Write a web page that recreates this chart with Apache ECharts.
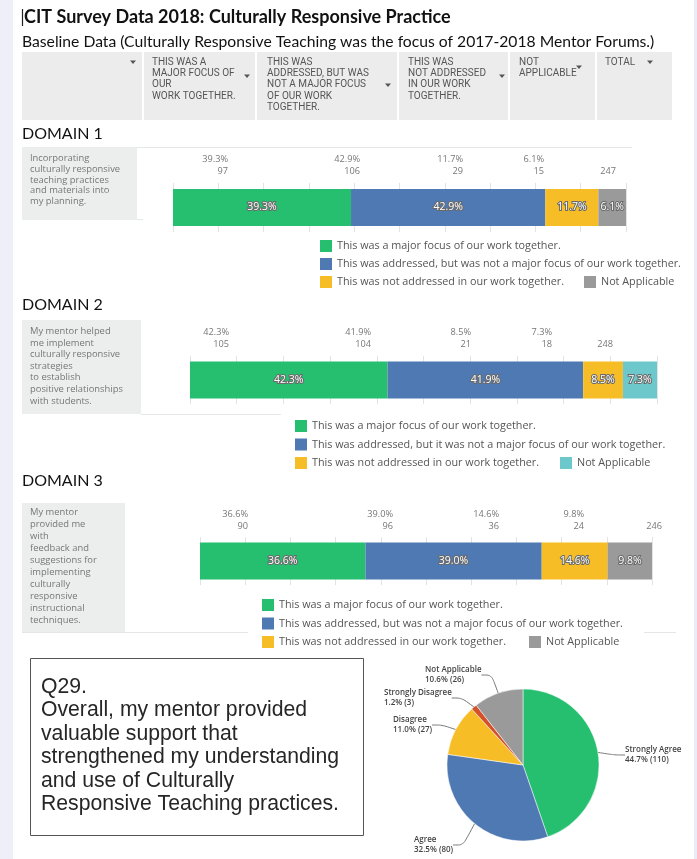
<!DOCTYPE html>
<html><head><meta charset="utf-8">
<script src="https://cdn.jsdelivr.net/npm/echarts@6/dist/echarts.min.js"></script>
<style>html,body{margin:0;padding:0;background:#fff}#c{width:697px;height:859px}</style>
</head><body><div id="c"></div><script>
// ---------- DATA ----------
const titleText = 'CIT Survey Data 2018: Culturally Responsive Practice';
const subtitleText = 'Baseline Data (Culturally Responsive Teaching was the focus of 2017-2018 Mentor Forums.)';
const headerLabels = ['', 'THIS WAS A\nMAJOR FOCUS OF\nOUR\nWORK TOGETHER.', 'THIS WAS\nADDRESSED, BUT WAS\nNOT A MAJOR FOCUS\nOF OUR WORK\nTOGETHER.', 'THIS WAS\nNOT ADDRESSED\nIN OUR WORK\nTOGETHER.', 'NOT\nAPPLICABLE', 'TOTAL'];
const domainTitles = ['DOMAIN 1', 'DOMAIN 2', 'DOMAIN 3'];
const legendNames1 = ['This was a major focus of our work together.', 'This was addressed, but was not a major focus of our work together.', 'This was not addressed in our work together.', 'Not Applicable'];
const legendNames2 = ['This was a major focus of our work together.', 'This was addressed, but it was not a major focus of our work together.', 'This was not addressed in our work together.', 'Not Applicable'];
const legendNames3 = legendNames1;
const rowLabel1 = 'Incorporating\nculturally responsive\nteaching practices\nand materials into\nmy planning.';
const rowLabel2 = 'My mentor helped\nme implement\nculturally responsive\nstrategies\nto establish\npositive relationships\nwith students.';
const rowLabel3 = 'My mentor\nprovided me\nwith\nfeedback and\nsuggestions for\nimplementing\nculturally\nresponsive\ninstructional\ntechniques.';
const d1Pct = [39.3, 42.9, 11.7, 6.1];
const d1Cnt = [97, 106, 29, 15];
const d1Total = 247;
const d2Pct = [42.3, 41.9, 8.5, 7.3];
const d2Cnt = [105, 104, 21, 18];
const d2Total = 248;
const d3Pct = [36.6, 39.0, 14.6, 9.8];
const d3Cnt = [90, 96, 36, 24];
const d3Total = 246;
const q29Text = 'Q29.\nOverall, my mentor provided\nvaluable support that\nstrengthened my understanding\nand use of Culturally\nResponsive Teaching practices.';
const pieNames = ['Strongly Agree', 'Agree', 'Disagree', 'Strongly Disagree', 'Not Applicable'];
const pieCounts = [110, 80, 27, 3, 26];

// ---------- STYLE / LAYOUT ----------
const GREEN = '#25BF6F', BLUE = '#4F79B2', YELLOW = '#F6BD26', GRAY = '#9A9A9A', TEAL = '#6CC8CB', RED = '#D4522A';
const FF = "'Open Sans', sans-serif";
const domains = [
  { pct: d1Pct, cnt: d1Cnt, total: d1Total, names: legendNames1, label: rowLabel1, colors: [GREEN, BLUE, YELLOW, GRAY],
    titleY: 134, box: [22, 147, 115, 73], labelY: 153.5, labelLH: 10.6, colX: [228, 360, 463, 544], totX: 616, pctY: 159, cntY: 171,
    grid: { left: 173, top: 183, width: 453, height: 49 }, leg: [320, 240, 584, 6] },
  { pct: d2Pct, cnt: d2Cnt, total: d2Total, names: legendNames2, label: rowLabel2, colors: [GREEN, BLUE, YELLOW, TEAL],
    titleY: 305, box: [22, 320, 119, 94], labelY: 325.5, labelLH: 11.6, colX: [229, 371, 471, 552], totX: 613, pctY: 332, cntY: 344,
    grid: { left: 190, top: 356, width: 467, height: 48 }, leg: [295, 420, 560, 6.5] },
  { pct: d3Pct, cnt: d3Cnt, total: d3Total, names: legendNames3, label: rowLabel3, colors: [GREEN, BLUE, YELLOW, GRAY],
    titleY: 481, box: [22, 503, 103, 129], labelY: 506.5, labelLH: 12, colX: [248, 393, 499, 584], totX: 662, pctY: 514, cntY: 526,
    grid: { left: 200, top: 537, width: 452, height: 48 }, leg: [262, 599, 529, 6.5] }
];
const SUF = ['\u2063', '\u2063\u2063', '\u2063\u2063\u2063'];
const strip = n => n.replace(/\u2063/g, '');

const graphics = [];
const txt = (x, y, text, o) => graphics.push({ type: 'text', silent: true, z: 10, style: Object.assign({ x, y, text, fill: '#555', fontFamily: FF, fontSize: 10, align: 'left', verticalAlign: 'middle' }, o || {}) });
const rect = (x, y, w, h, style, z) => graphics.push({ type: 'rect', silent: true, z: z || 1, shape: { x, y, width: w, height: h }, style });
const line = (x1, y1, x2, y2, stroke, lw) => graphics.push({ type: 'line', silent: true, z: 2, shape: { x1, y1, x2, y2 }, style: { stroke, lineWidth: lw || 1 } });
const arrow = (cx, cy) => graphics.push({ type: 'polygon', silent: true, z: 10, shape: { points: [[cx - 3, cy - 1.5], [cx + 3, cy - 1.5], [cx, cy + 2]] }, style: { fill: '#555' } });

// backgrounds
rect(0, 0, 13, 859, { fill: '#EEEFF8' });
rect(694, 0, 3, 859, { fill: '#E9EBF6' });
// title
line(22.5, 9, 22.5, 26, '#222', 1.2);
txt(24, 17.5, titleText, { fontFamily: "Lato, sans-serif", fontWeight: 'bold', fontSize: 18, fill: '#111' });
txt(22, 42, subtitleText, { fontFamily: "Lato, sans-serif", fontSize: 15.7, fill: '#111' });
// header
rect(22, 52, 650, 68, { fill: '#ECECEC' });
[143, 256, 398, 509, 596].forEach(x => line(x, 52, x, 120, '#fff', 2));
const hx = [30, 152, 267, 408, 519, 605];
headerLabels.forEach((t, i) => { if (t) txt(hx[i], 56.5, t, { verticalAlign: 'top', lineHeight: 11.3, fontFamily: "'Liberation Sans Narrow', Roboto, sans-serif", fontSize: 10, fill: '#555' }); });
[[133, 62], [247, 76], [388, 85], [502, 76], [579, 67], [650, 62]].forEach(p => arrow(p[0], p[1]));

const grids = [], xAxes = [], yAxes = [], series = [], legends = [];
domains.forEach((d, i) => {
  txt(22, d.titleY, domainTitles[i], { fontFamily: "Lato, sans-serif", fontSize: 16, fill: '#111' });
  rect(d.box[0], d.box[1], d.box[2], d.box[3], { fill: '#ECEDED' });
  txt(d.box[0] + 8, d.labelY, d.label, { verticalAlign: 'top', lineHeight: d.labelLH, fontSize: 9.4, fill: '#777' });
  d.pct.forEach((p, j) => {
    txt(d.colX[j], d.pctY, p.toFixed(1) + '%', { align: 'right', fontSize: 9.2, fill: '#777' });
    txt(d.colX[j], d.cntY, String(d.cnt[j]), { align: 'right', fontSize: 9.2, fill: '#777' });
  });
  txt(d.totX, d.cntY, String(d.total), { align: 'right', fontSize: 9.2, fill: '#777' });
  grids.push(Object.assign({ containLabel: false }, d.grid));
  xAxes.push({ type: 'value', gridIndex: i, min: 0, max: 100, interval: 10, axisLabel: { show: false }, axisLine: { show: false }, axisTick: { show: false }, splitLine: { show: true, lineStyle: { color: '#E3E3E3' } } });
  yAxes.push({ type: 'category', gridIndex: i, data: ['r'], show: false });
  d.pct.forEach((p, j) => {
    series.push({ type: 'bar', name: d.names[j] + SUF[i], stack: 's' + i, xAxisIndex: i, yAxisIndex: i, barWidth: 37, data: [p],
      itemStyle: { color: d.colors[j] }, silent: true,
      label: { show: true, position: 'inside', formatter: v => v.value.toFixed(1) + '%', color: '#fff', fontFamily: FF, fontSize: 10.5, textBorderColor: '#6a6a6a', textBorderWidth: 2 } });
  });
  const lstyle = { fontSize: 10.8, color: '#555', fontFamily: FF, lineHeight: 12 };
  legends.push({ orient: 'vertical', left: d.leg[0], top: d.leg[1], padding: 0, itemGap: d.leg[3], itemWidth: 12, itemHeight: 12, icon: 'rect', selectedMode: false,
    data: d.names.slice(0, 3).map(n => n + SUF[i]), formatter: strip, textStyle: lstyle });
  legends.push({ orient: 'vertical', left: d.leg[2], top: d.leg[1] + 2 * (12 + d.leg[3]), padding: 0, itemWidth: 12, itemHeight: 12, icon: 'rect', selectedMode: false,
    data: [d.names[3] + SUF[i]], formatter: strip, textStyle: lstyle });
});
line(137, 147.5, 632, 147.5, '#E6E6E6', 1);
line(137, 219.5, 143, 219.5, '#E6E6E6', 1);
line(141, 414.5, 281, 414.5, '#E6E6E6', 1);
line(22, 632.5, 248, 632.5, '#E6E6E6', 1);
line(644, 632.5, 676, 632.5, '#E6E6E6', 1);

// Q29 box
rect(30.5, 658.5, 333, 177, { fill: '#fff', stroke: '#555', lineWidth: 1 });
txt(41, 675, q29Text, { verticalAlign: 'top', lineHeight: 23.5, fontFamily: "'Liberation Sans', Arial, sans-serif", fontSize: 21.2, fill: '#262626' });

const pieTotal = pieCounts.reduce((a, b) => a + b, 0);
const pieColors = [GREEN, BLUE, YELLOW, RED, GRAY];
const pieLabelPos = [[625, 755], [414, 845], [393, 725], [384, 698], [425, 675]];
series.push({
  type: 'pie', center: [523, 765], radius: 76, startAngle: 90, clockwise: true, silent: true,
  data: pieNames.map((n, i) => ({ name: n, value: pieCounts[i], itemStyle: { color: pieColors[i] } })),
  itemStyle: { borderColor: '#fff', borderWidth: 0.5 },
  label: { show: true, formatter: p => p.name + '\n' + (p.value / pieTotal * 100).toFixed(1) + '% (' + p.value + ')', fontFamily: FF, fontSize: 8, fontWeight: 600, color: '#444', lineHeight: 10 },
  labelLine: { show: true, length: 10, length2: 10, smooth: 0.3, lineStyle: { color: '#777', width: 1 } },
  labelLayout: p => ({ x: pieLabelPos[p.dataIndex][0], y: pieLabelPos[p.dataIndex][1], align: 'left', verticalAlign: 'middle' })
});

const chart = echarts.init(document.getElementById('c'), null, { renderer: 'canvas' });
chart.setOption({ animation: false, backgroundColor: '#fff', grid: grids, xAxis: xAxes, yAxis: yAxes, series, legend: legends, graphic: graphics });
</script></body></html>
